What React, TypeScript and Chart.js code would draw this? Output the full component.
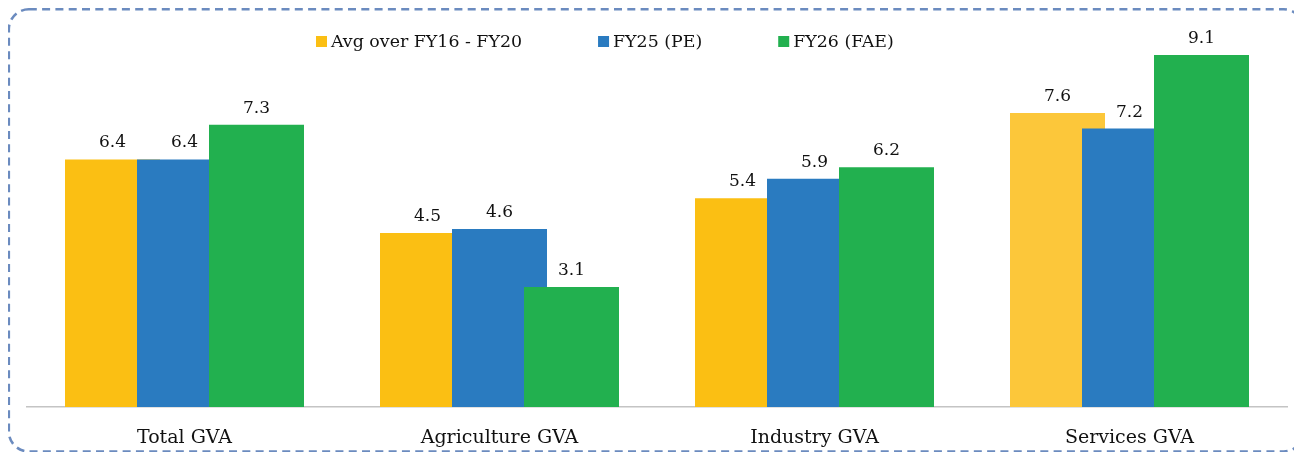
import React, { useEffect, useRef } from "react";
import { Chart, registerables } from "chart.js";

Chart.register(...registerables);

const categories = ["Total GVA", "Agriculture GVA", "Industry GVA", "Services GVA"];
const seriesLabels = ["Avg over FY16 - FY20", "FY25 (PE)", "FY26 (FAE)"];
const avgFY16FY20 = [6.4, 4.5, 5.4, 7.6];
const fy25PE = [6.4, 4.6, 5.9, 7.2];
const fy26FAE = [7.3, 3.1, 6.2, 9.1];

const FONT = "'DejaVu Serif', serif";

const drawOrderPlugin = {
  id: "drawOrder",
  beforeDatasetsDraw(chart: any) {
    const n = chart.data.datasets.length;
    for (let i = 0; i < n; i++) {
      const meta = chart.getDatasetMeta(i);
      if (!meta.hidden) meta.controller.draw();
    }
    return false;
  },
};

const decorPlugin = {
  id: "decor",
  afterDraw(chart: any) {
    const ctx = chart.ctx;
    ctx.save();
    // data labels
    ctx.font = `17px ${FONT}`;
    ctx.fillStyle = "#111";
    ctx.textAlign = "center";
    ctx.textBaseline = "alphabetic";
    chart.data.datasets.forEach((ds: any, i: number) => {
      const meta = chart.getDatasetMeta(i);
      meta.data.forEach((el: any, j: number) => {
        ctx.fillText(ds.data[j].toFixed(1), el.x, el.y - 12);
      });
    });
    // legend
    ctx.font = `17.4px ${FONT}`;
    ctx.textAlign = "left";
    ctx.textBaseline = "middle";
    let x = 308;
    const cy = 33.5;
    chart.data.datasets.forEach((ds: any) => {
      const c = Array.isArray(ds.backgroundColor) ? ds.backgroundColor[0] : ds.backgroundColor;
      ctx.fillStyle = c;
      ctx.fillRect(x, cy - 5.5, 11, 11);
      ctx.fillStyle = "#111";
      const tx = x + 15;
      ctx.fillText(ds.label, tx, cy + 1);
      x = tx + ctx.measureText(ds.label).width + 76;
    });
    // dashed rounded border
    ctx.strokeStyle = "#6b8bbf";
    ctx.lineWidth = 2.6;
    ctx.setLineDash([8, 5.3]);
    ctx.beginPath();
    (ctx as any).roundRect(0.8, 1.3, 1295, 442.2, 20);
    ctx.stroke();
    ctx.restore();
  },
};

export default function App() {
  const ref = useRef<HTMLCanvasElement>(null);
  useEffect(() => {
    if (!ref.current) return;
    const chart = new Chart(ref.current, {
      type: "bar",
      data: {
        labels: categories,
        datasets: [
          {
            label: seriesLabels[0],
            data: avgFY16FY20,
            backgroundColor: ["#FBBF13", "#FBBF13", "#FBBF13", "#FCC73A"],
          },
          { label: seriesLabels[1], data: fy25PE, backgroundColor: "#2A7BC0" },
          { label: seriesLabels[2], data: fy26FAE, backgroundColor: "#22B04F" },
        ],
      },
      options: {
        responsive: false,
        animation: false,
        events: [],
        datasets: {
          bar: { barPercentage: 95 / 72, categoryPercentage: 216 / 315 },
        },
        layout: { padding: { left: 19, right: 15, top: 12.2, bottom: 0 } },
        plugins: {
          legend: { display: false },
          tooltip: { enabled: false },
          title: { display: false },
        },
        scales: {
          x: {
            grid: { display: false },
            border: { display: true, color: "#c4c4c4", width: 1.5 },
            ticks: {
              color: "#111",
              font: { family: FONT, size: 19 },
              padding: 12,
            },
            afterFit(scale: any) {
              scale.height = 45;
            },
          },
          y: {
            display: false,
            min: 0,
            max: 10,
          },
        },
      },
      plugins: [drawOrderPlugin, decorPlugin],
    });
    return () => chart.destroy();
  }, []);
  return (
    <div style={{ width: 1294, height: 444 }}>
      <canvas ref={ref} width={1294} height={444} style={{ display: "block" }} />
    </div>
  );
}
